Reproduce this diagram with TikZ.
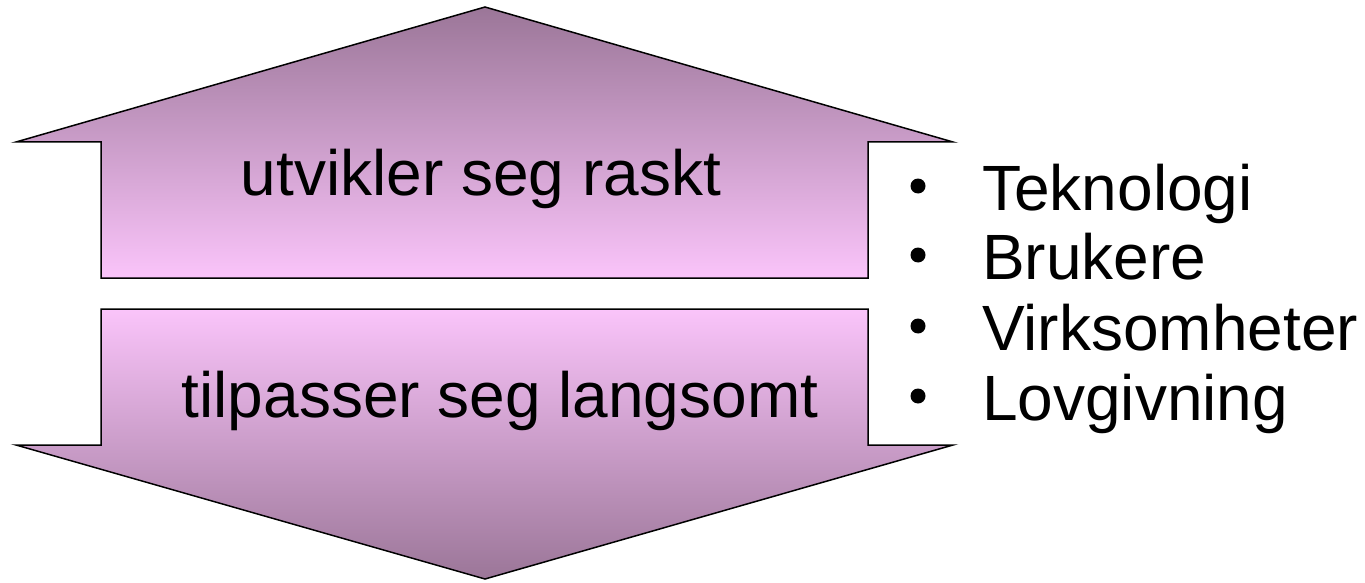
\documentclass[tikz,border=0pt]{standalone}
\usepackage{fontspec}
\setmainfont{Liberation Sans}
\definecolor{plumdark}{RGB}{155,118,152}
\definecolor{plumlight}{RGB}{250,196,250}
\begin{document}
\begin{tikzpicture}[x=1pt,y=-1pt,
  arrowshape/.style={draw=black,line width=1.5pt,line join=miter},
  label/.style={font=\fontsize{64}{70}\selectfont,inner sep=0pt,anchor=base},
  item/.style={font=\fontsize{64}{70}\selectfont,inner sep=0pt,anchor=base west},
  dot/.style={circle,fill=black,inner sep=0pt,minimum size=15pt}]
\useasboundingbox (0,0) rectangle (1365,583);
% upward arrow
\shade[arrowshape,top color=plumdark,bottom color=plumlight]
  (485,7) -- (953,142) -- (868,142) -- (868,278) -- (101,278) -- (101,142) -- (16,142) -- cycle;
% downward arrow
\shade[arrowshape,top color=plumlight,bottom color=plumdark]
  (101,309) -- (868,309) -- (868,445) -- (953,445) -- (485,579) -- (16,445) -- (101,445) -- cycle;
\node[label] (fast) at (481,195) {utvikler seg raskt};
\node[label] (slow) at (500,417) {tilpasser seg langsomt};
% bullet list
\foreach \name/\txt/\yy in {tek/Teknologi/210, bru/Brukere/279, vir/Virksomheter/350, lov/Lovgivning/420}{
  \node[dot] (\name-dot) at (918,\yy-24) {};
  \node[item] (\name) at (982,\yy) {\txt};
}
\end{tikzpicture}
\end{document}
